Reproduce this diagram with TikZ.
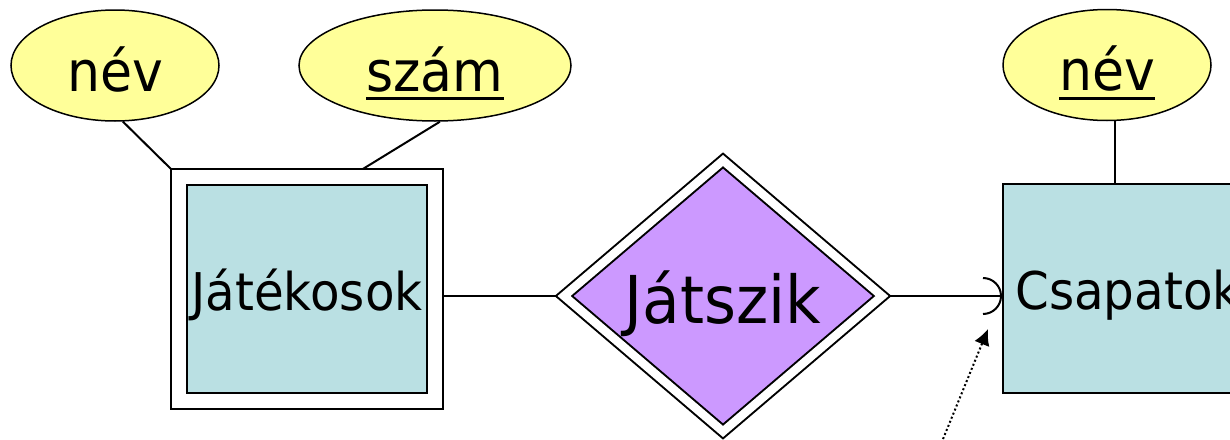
\documentclass[tikz,border=0pt]{standalone}
\usepackage{fontspec}
\setmainfont{DejaVu Sans}[FakeStretch=0.93]
\usetikzlibrary{arrows.meta,shapes.geometric}
\definecolor{attrsarga}{RGB}{255,255,153}
\definecolor{egyedkek}{RGB}{186,224,227}
\definecolor{kapcslila}{RGB}{204,153,255}
\newcommand{\kulcs}[1]{\vtop{\hbox{#1}\kern0.09em\hrule height 0.055em}}

\begin{document}
\begin{tikzpicture}[x=0.5pt,y=-0.5pt,
	attr/.style={ellipse,draw,line width=0.75pt,fill=attrsarga,inner sep=0pt,
		minimum width=104pt,minimum height=55.5pt,
		font=\fontsize{28}{28}\selectfont,text height=25.7pt,text depth=0pt},
	egyed/.style={rectangle,draw,line width=1pt,fill=egyedkek,inner sep=0pt,
		minimum width=120pt,minimum height=104.5pt,
		font=\fontsize{26}{26}\selectfont,text height=21.3pt,text depth=0pt},
	gyenge/.style={egyed,double,double distance=7pt,outer sep=4pt,
		minimum width=128pt,minimum height=111.75pt},
	kapcs/.style={diamond,draw,line width=1pt,double,double distance=4.2pt,
		fill=kapcslila,inner sep=0pt,outer sep=0pt,aspect=1.17,
		minimum width=159pt,minimum height=135.5pt,
		font=\fontsize{33}{33}\selectfont,text height=27pt,text depth=0pt},
	vonal/.style={line width=1pt}]
	%%%%% START %%%%%
	\useasboundingbox (0,0) rectangle (1230,439);
	
	\node[attr] (nevA) at (115,65.5) {név};
	\node[attr,minimum width=136pt] (szam) at (435,65.5) {\kulcs{szám}};
	\node[attr] (nevC) at (1107,65) {\kulcs{név}};
	
	\node[gyenge] (jatekos) at (307,288.75) {Játékosok};
	\node[kapcs] (jatszik) at (723,296) {Játszik};
	\node[egyed,minimum width=125pt] (csapat) at (1128,288.5) {Csapatok};
	
	\draw[vonal] (nevA.-82) -- (jatekos.north west);
	\draw[vonal] (szam.-85) -- (jatekos.65);
	\draw[vonal] (nevC.-82) -- (nevC.-82 |- csapat.north);
	
	\draw[vonal,shorten >=4pt] (jatszik.west -| jatekos.east) -- (jatszik.west);
	\draw[vonal,shorten <=4pt,-{Arc Barb[length=9.5pt,width=19pt]}] (jatszik.east) -- (jatszik.east -| csapat.west);
	
	\coordinate (pontA) at (943,439);
	\coordinate (pontB) at (988,329);
	\draw[vonal,dash pattern=on 1pt off 1.2pt,-{Latex[length=8pt,width=8pt]}] (pontA) -- (pontB);
	%%%%% END %%%%%
\end{tikzpicture}
\end{document}
